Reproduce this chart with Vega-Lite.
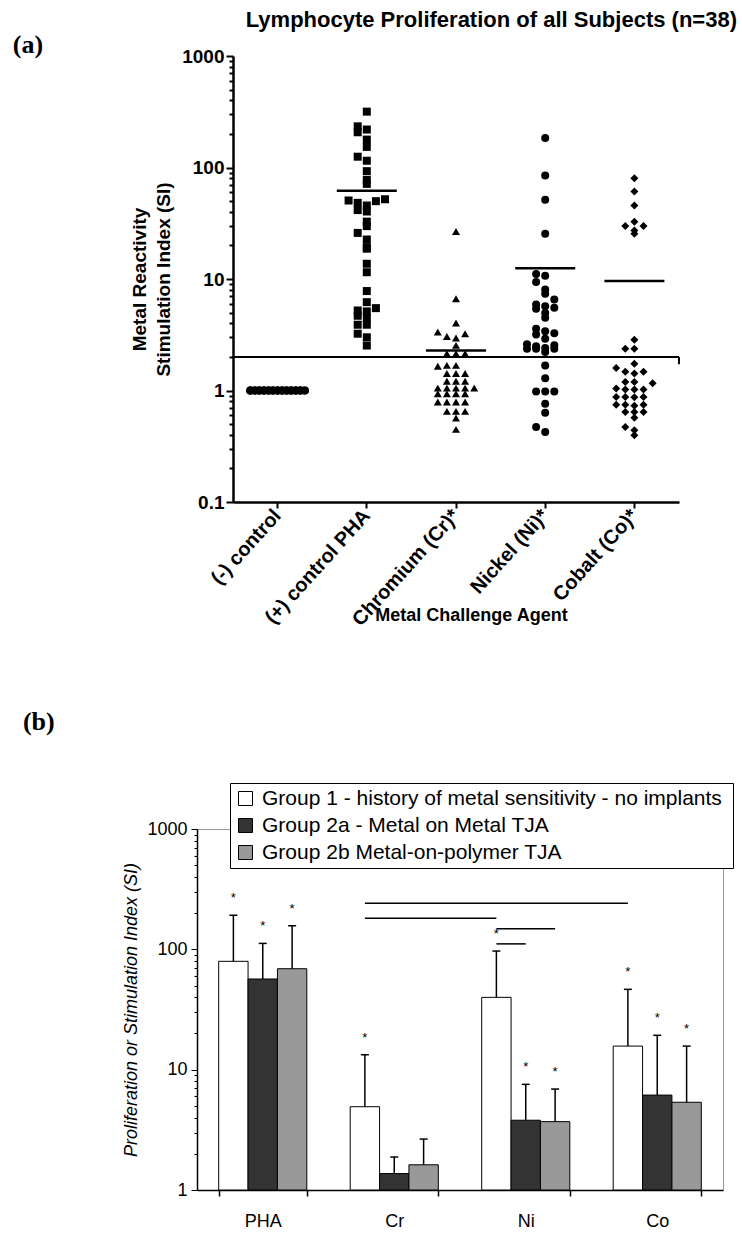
{
  "$schema": "https://vega.github.io/schema/vega-lite/v6.json",
  "background": "white",
  "padding": {"left": 12, "top": 9, "right": 4, "bottom": 4},
  "config": {"view": {"stroke": null}, "font": "Liberation Sans", "axis": {"labelFont": "Liberation Sans", "titleFont": "Liberation Sans", "labelColor": "black", "titleColor": "black", "grid": false}},
  "title": {"text": "Lymphocyte Proliferation of all Subjects (n=38)", "anchor": "start", "frame": "bounds", "dx": 233, "font": "Liberation Sans", "fontSize": 22, "fontWeight": "bold", "color": "black", "offset": 0},
  "spacing": 78,
  "resolve": {"legend": {"fill": "independent", "shape": "independent"}},
  "datasets": {
    "dots": [
      {"Agent": "(-) control", "SI": 1}, {"Agent": "(-) control", "SI": 1}, {"Agent": "(-) control", "SI": 1}, {"Agent": "(-) control", "SI": 1}, {"Agent": "(-) control", "SI": 1}, {"Agent": "(-) control", "SI": 1}, {"Agent": "(-) control", "SI": 1}, {"Agent": "(-) control", "SI": 1}, {"Agent": "(-) control", "SI": 1}, {"Agent": "(-) control", "SI": 1},
      {"Agent": "(-) control", "SI": 1}, {"Agent": "(-) control", "SI": 1}, {"Agent": "(-) control", "SI": 1}, {"Agent": "(-) control", "SI": 1}, {"Agent": "(-) control", "SI": 1}, {"Agent": "(-) control", "SI": 1}, {"Agent": "(-) control", "SI": 1}, {"Agent": "(-) control", "SI": 1}, {"Agent": "(-) control", "SI": 1}, {"Agent": "(-) control", "SI": 1},
      {"Agent": "(-) control", "SI": 1}, {"Agent": "(-) control", "SI": 1}, {"Agent": "(-) control", "SI": 1}, {"Agent": "(-) control", "SI": 1}, {"Agent": "(-) control", "SI": 1}, {"Agent": "(-) control", "SI": 1}, {"Agent": "(-) control", "SI": 1}, {"Agent": "(-) control", "SI": 1}, {"Agent": "(-) control", "SI": 1}, {"Agent": "(-) control", "SI": 1},
      {"Agent": "(-) control", "SI": 1}, {"Agent": "(-) control", "SI": 1}, {"Agent": "(-) control", "SI": 1}, {"Agent": "(-) control", "SI": 1}, {"Agent": "(-) control", "SI": 1}, {"Agent": "(-) control", "SI": 1}, {"Agent": "(-) control", "SI": 1}, {"Agent": "(-) control", "SI": 1},
      {"Agent": "(+) control PHA", "SI": 317}, {"Agent": "(+) control PHA", "SI": 234}, {"Agent": "(+) control PHA", "SI": 207}, {"Agent": "(+) control PHA", "SI": 219}, {"Agent": "(+) control PHA", "SI": 178}, {"Agent": "(+) control PHA", "SI": 153}, {"Agent": "(+) control PHA", "SI": 115}, {"Agent": "(+) control PHA", "SI": 125}, {"Agent": "(+) control PHA", "SI": 92.7}, {"Agent": "(+) control PHA", "SI": 71.3},
      {"Agent": "(+) control PHA", "SI": 77.4}, {"Agent": "(+) control PHA", "SI": 49.9}, {"Agent": "(+) control PHA", "SI": 48.2}, {"Agent": "(+) control PHA", "SI": 50.6}, {"Agent": "(+) control PHA", "SI": 45.6}, {"Agent": "(+) control PHA", "SI": 51.9}, {"Agent": "(+) control PHA", "SI": 41.5}, {"Agent": "(+) control PHA", "SI": 40.3}, {"Agent": "(+) control PHA", "SI": 32.7}, {"Agent": "(+) control PHA", "SI": 29.8},
      {"Agent": "(+) control PHA", "SI": 25.9}, {"Agent": "(+) control PHA", "SI": 22.6}, {"Agent": "(+) control PHA", "SI": 19.3}, {"Agent": "(+) control PHA", "SI": 18.7}, {"Agent": "(+) control PHA", "SI": 13.7}, {"Agent": "(+) control PHA", "SI": 11.5}, {"Agent": "(+) control PHA", "SI": 7.8}, {"Agent": "(+) control PHA", "SI": 6.2}, {"Agent": "(+) control PHA", "SI": 5.22}, {"Agent": "(+) control PHA", "SI": 5.12},
      {"Agent": "(+) control PHA", "SI": 5.48}, {"Agent": "(+) control PHA", "SI": 4.46}, {"Agent": "(+) control PHA", "SI": 4.68}, {"Agent": "(+) control PHA", "SI": 3.89}, {"Agent": "(+) control PHA", "SI": 3.89}, {"Agent": "(+) control PHA", "SI": 3.23}, {"Agent": "(+) control PHA", "SI": 3.0}, {"Agent": "(+) control PHA", "SI": 2.53},
      {"Agent": "Chromium (Cr)*", "SI": 26.7}, {"Agent": "Chromium (Cr)*", "SI": 6.65}, {"Agent": "Chromium (Cr)*", "SI": 4.03}, {"Agent": "Chromium (Cr)*", "SI": 3.34}, {"Agent": "Chromium (Cr)*", "SI": 3.23}, {"Agent": "Chromium (Cr)*", "SI": 3.05}, {"Agent": "Chromium (Cr)*", "SI": 2.96}, {"Agent": "Chromium (Cr)*", "SI": 2.54}, {"Agent": "Chromium (Cr)*", "SI": 2.14}, {"Agent": "Chromium (Cr)*", "SI": 2.14},
      {"Agent": "Chromium (Cr)*", "SI": 2.14}, {"Agent": "Chromium (Cr)*", "SI": 1.68}, {"Agent": "Chromium (Cr)*", "SI": 1.68}, {"Agent": "Chromium (Cr)*", "SI": 1.65}, {"Agent": "Chromium (Cr)*", "SI": 1.42}, {"Agent": "Chromium (Cr)*", "SI": 1.42}, {"Agent": "Chromium (Cr)*", "SI": 1.42}, {"Agent": "Chromium (Cr)*", "SI": 1.21}, {"Agent": "Chromium (Cr)*", "SI": 1.21}, {"Agent": "Chromium (Cr)*", "SI": 1.21},
      {"Agent": "Chromium (Cr)*", "SI": 1.05}, {"Agent": "Chromium (Cr)*", "SI": 1.05}, {"Agent": "Chromium (Cr)*", "SI": 1.05}, {"Agent": "Chromium (Cr)*", "SI": 1.05}, {"Agent": "Chromium (Cr)*", "SI": 1.05}, {"Agent": "Chromium (Cr)*", "SI": 0.935}, {"Agent": "Chromium (Cr)*", "SI": 0.935}, {"Agent": "Chromium (Cr)*", "SI": 0.935}, {"Agent": "Chromium (Cr)*", "SI": 0.935}, {"Agent": "Chromium (Cr)*", "SI": 0.79},
      {"Agent": "Chromium (Cr)*", "SI": 0.79}, {"Agent": "Chromium (Cr)*", "SI": 0.79}, {"Agent": "Chromium (Cr)*", "SI": 0.79}, {"Agent": "Chromium (Cr)*", "SI": 0.65}, {"Agent": "Chromium (Cr)*", "SI": 0.65}, {"Agent": "Chromium (Cr)*", "SI": 0.65}, {"Agent": "Chromium (Cr)*", "SI": 0.567}, {"Agent": "Chromium (Cr)*", "SI": 0.448},
      {"Agent": "Nickel (Ni)*", "SI": 184}, {"Agent": "Nickel (Ni)*", "SI": 84.6}, {"Agent": "Nickel (Ni)*", "SI": 51.3}, {"Agent": "Nickel (Ni)*", "SI": 25.4}, {"Agent": "Nickel (Ni)*", "SI": 10.7}, {"Agent": "Nickel (Ni)*", "SI": 11.1}, {"Agent": "Nickel (Ni)*", "SI": 9.38}, {"Agent": "Nickel (Ni)*", "SI": 8.05}, {"Agent": "Nickel (Ni)*", "SI": 7.37}, {"Agent": "Nickel (Ni)*", "SI": 6.55},
      {"Agent": "Nickel (Ni)*", "SI": 5.71}, {"Agent": "Nickel (Ni)*", "SI": 5.52}, {"Agent": "Nickel (Ni)*", "SI": 5.91}, {"Agent": "Nickel (Ni)*", "SI": 5.41}, {"Agent": "Nickel (Ni)*", "SI": 4.95}, {"Agent": "Nickel (Ni)*", "SI": 4.49}, {"Agent": "Nickel (Ni)*", "SI": 3.58}, {"Agent": "Nickel (Ni)*", "SI": 3.4}, {"Agent": "Nickel (Ni)*", "SI": 3.27}, {"Agent": "Nickel (Ni)*", "SI": 3.18},
      {"Agent": "Nickel (Ni)*", "SI": 2.91}, {"Agent": "Nickel (Ni)*", "SI": 2.6}, {"Agent": "Nickel (Ni)*", "SI": 2.54}, {"Agent": "Nickel (Ni)*", "SI": 2.5}, {"Agent": "Nickel (Ni)*", "SI": 2.4}, {"Agent": "Nickel (Ni)*", "SI": 2.37}, {"Agent": "Nickel (Ni)*", "SI": 2.37}, {"Agent": "Nickel (Ni)*", "SI": 2.37}, {"Agent": "Nickel (Ni)*", "SI": 2.21}, {"Agent": "Nickel (Ni)*", "SI": 1.68},
      {"Agent": "Nickel (Ni)*", "SI": 1.29}, {"Agent": "Nickel (Ni)*", "SI": 0.98}, {"Agent": "Nickel (Ni)*", "SI": 0.98}, {"Agent": "Nickel (Ni)*", "SI": 0.98}, {"Agent": "Nickel (Ni)*", "SI": 0.762}, {"Agent": "Nickel (Ni)*", "SI": 0.632}, {"Agent": "Nickel (Ni)*", "SI": 0.471}, {"Agent": "Nickel (Ni)*", "SI": 0.425},
      {"Agent": "Cobalt (Co)*", "SI": 80.1}, {"Agent": "Cobalt (Co)*", "SI": 60.8}, {"Agent": "Cobalt (Co)*", "SI": 45.6}, {"Agent": "Cobalt (Co)*", "SI": 32.7}, {"Agent": "Cobalt (Co)*", "SI": 29.8}, {"Agent": "Cobalt (Co)*", "SI": 27.2}, {"Agent": "Cobalt (Co)*", "SI": 25.4}, {"Agent": "Cobalt (Co)*", "SI": 29.8}, {"Agent": "Cobalt (Co)*", "SI": 2.85}, {"Agent": "Cobalt (Co)*", "SI": 2.37},
      {"Agent": "Cobalt (Co)*", "SI": 2.37}, {"Agent": "Cobalt (Co)*", "SI": 1.74}, {"Agent": "Cobalt (Co)*", "SI": 1.59}, {"Agent": "Cobalt (Co)*", "SI": 1.47}, {"Agent": "Cobalt (Co)*", "SI": 1.42}, {"Agent": "Cobalt (Co)*", "SI": 1.47}, {"Agent": "Cobalt (Co)*", "SI": 1.19}, {"Agent": "Cobalt (Co)*", "SI": 1.19}, {"Agent": "Cobalt (Co)*", "SI": 1.16}, {"Agent": "Cobalt (Co)*", "SI": 1.02},
      {"Agent": "Cobalt (Co)*", "SI": 1.02}, {"Agent": "Cobalt (Co)*", "SI": 1.02}, {"Agent": "Cobalt (Co)*", "SI": 1.04}, {"Agent": "Cobalt (Co)*", "SI": 0.875}, {"Agent": "Cobalt (Co)*", "SI": 0.875}, {"Agent": "Cobalt (Co)*", "SI": 0.875}, {"Agent": "Cobalt (Co)*", "SI": 0.87}, {"Agent": "Cobalt (Co)*", "SI": 0.746}, {"Agent": "Cobalt (Co)*", "SI": 0.746}, {"Agent": "Cobalt (Co)*", "SI": 0.746},
      {"Agent": "Cobalt (Co)*", "SI": 0.73}, {"Agent": "Cobalt (Co)*", "SI": 0.641}, {"Agent": "Cobalt (Co)*", "SI": 0.641}, {"Agent": "Cobalt (Co)*", "SI": 0.641}, {"Agent": "Cobalt (Co)*", "SI": 0.57}, {"Agent": "Cobalt (Co)*", "SI": 0.471}, {"Agent": "Cobalt (Co)*", "SI": 0.44}, {"Agent": "Cobalt (Co)*", "SI": 0.396}
    ],
    "bars": [
      {"Metal": "PHA", "Group": "Group 1 - history of metal sensitivity -  no implants", "SI": 79.5, "upper": 192, "sig": true},
      {"Metal": "PHA", "Group": "Group 2a - Metal on Metal TJA", "SI": 56.7, "upper": 112, "sig": true},
      {"Metal": "PHA", "Group": "Group 2b Metal-on-polymer TJA", "SI": 69, "upper": 157, "sig": true},
      {"Metal": "Cr", "Group": "Group 1 - history of metal sensitivity -  no implants", "SI": 4.92, "upper": 13.3, "sig": true},
      {"Metal": "Cr", "Group": "Group 2a - Metal on Metal TJA", "SI": 1.37, "upper": 1.88, "sig": false},
      {"Metal": "Cr", "Group": "Group 2b Metal-on-polymer TJA", "SI": 1.62, "upper": 2.65, "sig": false},
      {"Metal": "Ni", "Group": "Group 1 - history of metal sensitivity -  no implants", "SI": 39.9, "upper": 96.8, "sig": true},
      {"Metal": "Ni", "Group": "Group 2a - Metal on Metal TJA", "SI": 3.8, "upper": 7.55, "sig": true},
      {"Metal": "Ni", "Group": "Group 2b Metal-on-polymer TJA", "SI": 3.7, "upper": 6.9, "sig": true},
      {"Metal": "Co", "Group": "Group 1 - history of metal sensitivity -  no implants", "SI": 15.7, "upper": 46.5, "sig": true},
      {"Metal": "Co", "Group": "Group 2a - Metal on Metal TJA", "SI": 6.15, "upper": 19.3, "sig": true},
      {"Metal": "Co", "Group": "Group 2b Metal-on-polymer TJA", "SI": 5.36, "upper": 15.7, "sig": true}
    ],
    "brackets": [
      {"pair": "a", "Metal": "Cr", "Group": "Group 1 - history of metal sensitivity -  no implants", "level": 241},
      {"pair": "a", "Metal": "Co", "Group": "Group 1 - history of metal sensitivity -  no implants", "level": 241},
      {"pair": "b", "Metal": "Cr", "Group": "Group 1 - history of metal sensitivity -  no implants", "level": 181},
      {"pair": "b", "Metal": "Ni", "Group": "Group 1 - history of metal sensitivity -  no implants", "level": 181},
      {"pair": "c", "Metal": "Ni", "Group": "Group 1 - history of metal sensitivity -  no implants", "level": 148},
      {"pair": "c", "Metal": "Ni", "Group": "Group 2b Metal-on-polymer TJA", "level": 148},
      {"pair": "d", "Metal": "Ni", "Group": "Group 1 - history of metal sensitivity -  no implants", "level": 111},
      {"pair": "d", "Metal": "Ni", "Group": "Group 2a - Metal on Metal TJA", "level": 111}
    ]
  },
  "vconcat": [
    {
      "width": 482,
      "height": 446,
      "title": {"text": "(a)", "anchor": "start", "frame": "bounds", "dx": -118, "dy": 11, "offset": 0, "font": "Liberation Serif", "fontSize": 26, "fontWeight": "bold", "color": "black"},
      "data": {"name": "dots"},
      "transform": [
        {"calculate": "log(datum.SI)/LN10", "as": "lv"},
        {"bin": {"step": 0.075}, "field": "lv", "as": "lvbin"},
        {"window": [{"op": "row_number", "as": "r"}], "groupby": ["Agent", "lvbin"], "sort": [{"field": "SI"}]},
        {"joinaggregate": [{"op": "count", "as": "n"}], "groupby": ["Agent", "lvbin"]},
        {"calculate": "(datum.r - 1) % 7", "as": "k"},
        {"calculate": "datum.n > 7 ? (((datum.r - 1) % 13) - 6) / 2 : (datum.k % 2 == 0 ? datum.k / 2 : -(datum.k + 1) / 2)", "as": "slot"}
      ],
      "layer": [
        {
          "data": {"values": [{}]},
          "mark": {"type": "rule", "color": "black", "strokeWidth": 2},
          "encoding": {
            "y": {"datum": 2, "type": "quantitative"},
            "x": {"datum": "(-) control", "type": "nominal", "bandPosition": 0},
            "x2": {"datum": "Cobalt (Co)*", "bandPosition": 1}
          }
        },
        {
          "data": {"values": [{}]},
          "mark": {"type": "rule", "color": "black", "strokeWidth": 2},
          "encoding": {
            "x": {"datum": "Cobalt (Co)*", "type": "nominal", "bandPosition": 1},
            "y": {"datum": 2, "type": "quantitative"},
            "y2": {"datum": 1.72}
          }
        },
        {
          "mark": {"type": "point", "filled": true, "opacity": 1, "color": "black", "size": 64},
          "encoding": {
            "x": {
              "field": "Agent", "type": "nominal",
              "sort": ["(-) control", "(+) control PHA", "Chromium (Cr)*", "Nickel (Ni)*", "Cobalt (Co)*"],
              "scale": {"type": "band", "paddingInner": 0, "paddingOuter": 0, "range": [36, 482]},
              "axis": {"title": "Metal Challenge Agent", "titleFontSize": 18, "titleFontWeight": "bold", "titleY": 113, "titleX": 274, "titleAlign": "center", "titleBaseline": "middle", "labelAngle": -48, "labelFontSize": 20, "labelFontWeight": "bold", "labelPadding": 4, "labelDx": -18, "domainColor": "black", "domainWidth": 2.5, "tickColor": "black", "tickWidth": 2, "tickSize": 6}
            },
            "xOffset": {"field": "slot", "type": "quantitative", "scale": {"domain": [-4.9, 4.9]}},
            "y": {
              "field": "SI", "type": "quantitative",
              "scale": {"type": "log", "domain": [0.1, 1000]},
              "axis": {
                "offset": -36,
                "title": ["Metal Reactivity", "Stimulation Index (SI)"], "titleFontSize": 19, "titleFontWeight": "bold", "titlePadding": 8, "titleLineHeight": 24,
                "values": [0.1, 0.2, 0.3, 0.4, 0.5, 0.6, 0.7, 0.8, 0.9, 1, 2, 3, 4, 5, 6, 7, 8, 9, 10, 20, 30, 40, 50, 60, 70, 80, 90, 100, 200, 300, 400, 500, 600, 700, 800, 900, 1000],
                "format": "~g",
                "labelExpr": "abs(log(datum.value)/LN10 - round(log(datum.value)/LN10)) < 0.01 ? datum.label : ''",
                "tickSize": {"condition": {"test": "abs(log(datum.value)/LN10 - round(log(datum.value)/LN10)) < 0.01", "value": 7}, "value": 4},
                "labelFontSize": 19, "labelFontWeight": "bold", "labelPadding": 2,
                "domainColor": "black", "domainWidth": 2.5, "tickColor": "black", "tickWidth": 2
              }
            },
            "shape": {
              "field": "Agent", "type": "nominal", "legend": null,
              "scale": {"domain": ["(-) control", "(+) control PHA", "Chromium (Cr)*", "Nickel (Ni)*", "Cobalt (Co)*"], "range": ["circle", "square", "triangle-up", "circle", "diamond"]}
            }
          }
        },
        {
          "mark": {"type": "tick", "color": "black", "size": 60, "thickness": 2.5, "opacity": 1},
          "encoding": {
            "x": {"field": "Agent", "type": "nominal", "sort": ["(-) control", "(+) control PHA", "Chromium (Cr)*", "Nickel (Ni)*", "Cobalt (Co)*"]},
            "y": {"aggregate": "mean", "field": "SI", "type": "quantitative"}
          }
        }
      ]
    },
    {
      "width": 526,
      "height": 361,
      "view": {"stroke": "#999999", "strokeWidth": 1},
      "title": {"text": "(b)", "anchor": "start", "frame": "bounds", "dx": -100, "offset": 48, "font": "Liberation Serif", "fontSize": 26, "fontWeight": "bold", "color": "black"},
      "data": {"name": "bars"},
      "encoding": {
        "x": {
          "field": "Metal", "type": "nominal", "sort": ["PHA", "Cr", "Ni", "Co"],
          "scale": {"type": "band", "paddingInner": 0.33, "paddingOuter": 0.165},
          "axis": {"title": null, "labelAngle": 0, "labelFontSize": 18, "labelPadding": 16, "tickBand": "extent", "tickSize": 6, "tickColor": "black", "tickWidth": 1.5, "domainColor": "black", "domainWidth": 1.5}
        },
        "xOffset": {
          "field": "Group", "type": "nominal",
          "sort": ["Group 1 - history of metal sensitivity -  no implants", "Group 2a - Metal on Metal TJA", "Group 2b Metal-on-polymer TJA"],
          "scale": {"paddingInner": 0, "paddingOuter": 0}
        }
      },
      "layer": [
        {
          "mark": {"type": "bar", "stroke": "black", "strokeWidth": 1},
          "encoding": {
            "y": {
              "field": "SI", "type": "quantitative",
              "scale": {"type": "log", "domain": [1, 1000]},
              "axis": {
                "title": "Proliferation or Stimulation Index (SI)", "titleFontSize": 18, "titleFontStyle": "italic", "titleFontWeight": "normal", "titlePadding": 6,
                "values": [1, 2, 3, 4, 5, 6, 7, 8, 9, 10, 20, 30, 40, 50, 60, 70, 80, 90, 100, 200, 300, 400, 500, 600, 700, 800, 900, 1000],
                "format": "~g",
                "labelExpr": "abs(log(datum.value)/LN10 - round(log(datum.value)/LN10)) < 0.01 ? datum.label : ''",
                "tickSize": {"condition": {"test": "abs(log(datum.value)/LN10 - round(log(datum.value)/LN10)) < 0.01", "value": 6}, "value": 3},
                "labelFontSize": 18, "labelPadding": 4,
                "domainColor": "black", "domainWidth": 1.5, "tickColor": "black", "tickWidth": 1
              }
            },
            "y2": {"datum": 1},
            "fill": {
              "field": "Group", "type": "nominal",
              "scale": {"domain": ["Group 1 - history of metal sensitivity -  no implants", "Group 2a - Metal on Metal TJA", "Group 2b Metal-on-polymer TJA"], "range": ["#ffffff", "#333333", "#999999"]},
              "legend": {"title": null, "orient": "none", "legendX": 33, "legendY": -46, "symbolType": "square", "symbolSize": 196, "symbolStrokeColor": "black", "symbolStrokeWidth": 1, "labelFontSize": 21, "labelColor": "black", "labelLimit": 700, "rowPadding": 5, "padding": 5, "fillColor": "white", "strokeColor": "black", "cornerRadius": 0, "labelOffset": 6}
            }
          }
        },
        {
          "mark": {"type": "rule", "color": "black", "strokeWidth": 1.5},
          "encoding": {"y": {"field": "SI", "type": "quantitative"}, "y2": {"field": "upper"}}
        },
        {
          "mark": {"type": "tick", "color": "black", "thickness": 1.5, "opacity": 1},
          "encoding": {"y": {"field": "upper", "type": "quantitative"}, "size": {"value": 8}}
        },
        {
          "transform": [{"filter": "datum.sig"}],
          "mark": {"type": "text", "text": "*", "fontSize": 13, "color": "black", "baseline": "bottom", "dy": -10},
          "encoding": {"y": {"field": "upper", "type": "quantitative"}}
        },
        {
          "data": {"name": "brackets"},
          "mark": {"type": "line", "color": "black", "strokeWidth": 1.5},
          "encoding": {"y": {"field": "level", "type": "quantitative"}, "detail": {"field": "pair"}}
        }
      ]
    }
  ]
}
